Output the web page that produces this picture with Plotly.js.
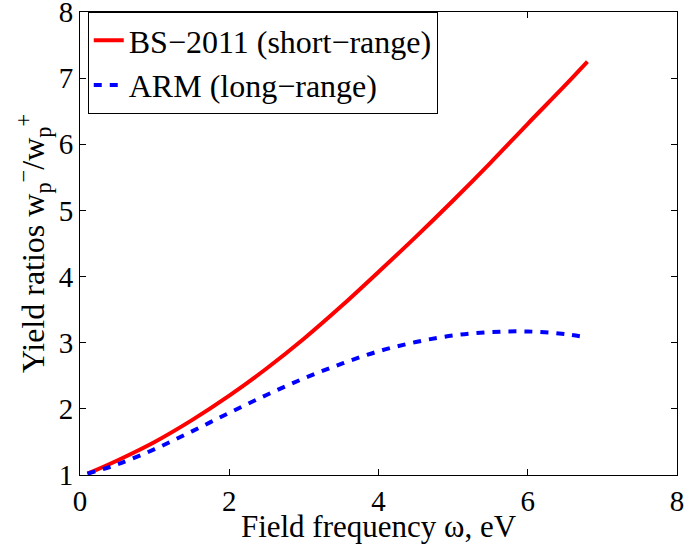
<!DOCTYPE html>
<html>
<head>
<meta charset="utf-8">
<script src="https://cdn.plot.ly/plotly-3.0.1.min.js"></script>
<style>html,body{margin:0;padding:0;background:#fff;}#chart{width:686px;height:544px;}</style>
</head>
<body>
<div id="chart"></div>
<script>
const omega = [0.1, 0.5, 1.0, 1.5, 2.0, 2.5, 3.0, 3.5, 4.0, 4.5, 5.0, 5.5, 6.0, 6.5, 6.8];
const bs2011 = [1.02, 1.22, 1.5, 1.83, 2.2, 2.61, 3.06, 3.55, 4.07, 4.6, 5.15, 5.72, 6.31, 6.89, 7.25];
const arm = [1.02, 1.16, 1.39, 1.66, 1.94, 2.21, 2.46, 2.68, 2.87, 3.01, 3.11, 3.16, 3.17, 3.13, 3.08];
const xTicks = [0, 2, 4, 6, 8];
const yTicks = [1, 2, 3, 4, 5, 6, 7, 8];

const FAM = '"Liberation Serif", "Times New Roman", Times, serif';
function mkFont(size) { return {family: FAM, size: size, color: '#000'}; }

const traces = [
  {x: omega, y: bs2011, mode: 'lines', name: 'BS\u22122011 (short\u2212range)', line: {color: '#ff0000', width: 4, shape: 'spline'}},
  {x: omega, y: arm, mode: 'lines', name: 'ARM (long\u2212range)', line: {color: '#0000ff', width: 4, dash: '8px,8px', shape: 'spline'}}
];

function axisCommon() {
  return {
    showgrid: false, zeroline: false, showline: true, linecolor: '#000', linewidth: 1,
    mirror: 'allticks', ticks: 'inside', ticklen: 6, tickcolor: '#000', tickfont: mkFont(29),
    ticklabeloverflow: 'allow'
  };
}

const layout = {
  width: 686, height: 544,
  margin: {l: 80, r: 9, t: 12, b: 69},
  paper_bgcolor: '#fff', plot_bgcolor: '#fff',
  font: mkFont(30),
  showlegend: true,
  legend: {x: 0.013, y: 1, xanchor: 'left', yanchor: 'top', bordercolor: '#000', borderwidth: 1,
           bgcolor: '#fff', font: mkFont(32), tracegroupgap: 0},
  xaxis: Object.assign(axisCommon(), {range: [0, 8], tickvals: xTicks,
    title: {text: 'Field frequency \u03c9, eV', font: mkFont(31), standoff: 2}}),
  yaxis: Object.assign(axisCommon(), {range: [1, 8], tickvals: yTicks,
    title: {text: 'Yield ratios w<sub>p</sub><sup>\u2212</sup>/w<sub>p</sub><sup>+</sup>', font: mkFont(32), standoff: 4}})
};

Plotly.newPlot('chart', traces, layout, {displayModeBar: false, staticPlot: true});
</script>
</body>
</html>
